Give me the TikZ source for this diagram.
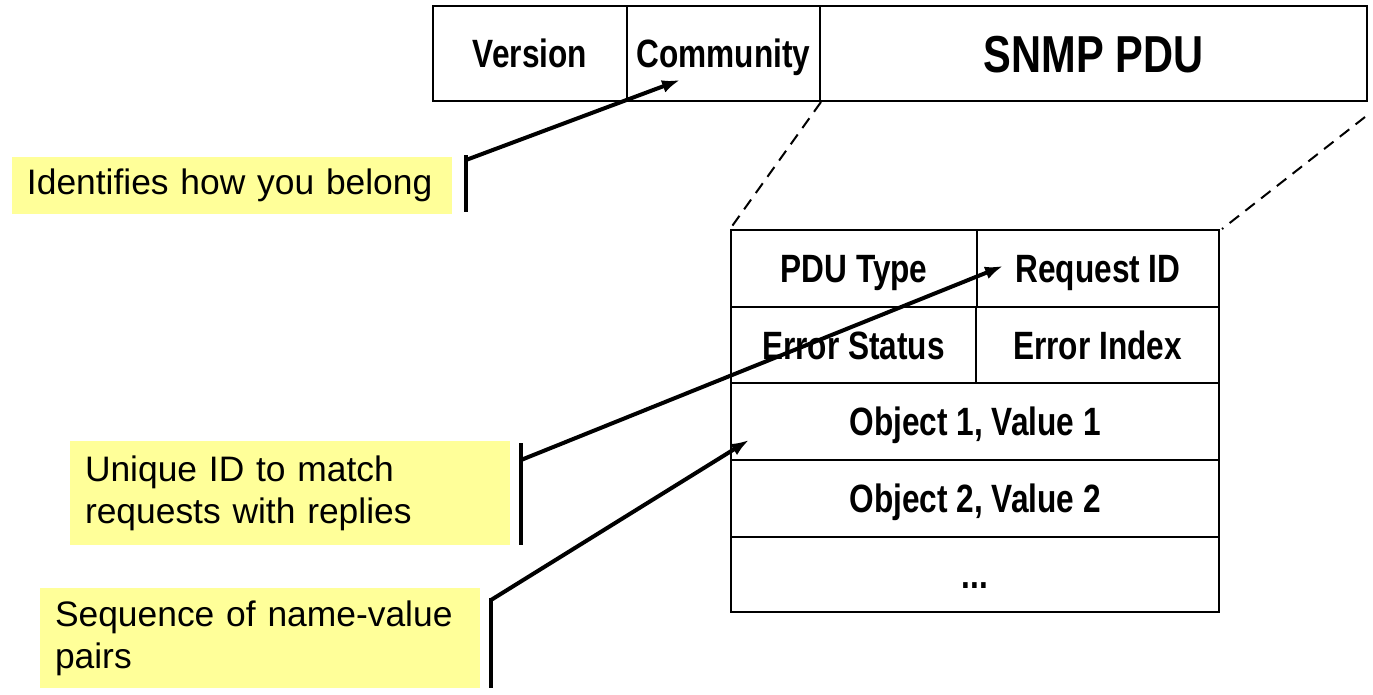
\documentclass[tikz,border=0pt]{standalone}
\usepackage{fontspec}
\setmainfont{Liberation Sans}
\newfontfamily\narrowbold[FakeStretch=0.8]{Liberation Sans Bold}
\usetikzlibrary{arrows.meta}
\definecolor{noteyellow}{RGB}{255,255,153}
\tikzset{
  cell/.style={draw=black, line width=2pt, inner sep=0pt, text height=28.4pt, text depth=0pt, font=\narrowbold\fontsize{39.5}{44}\selectfont},
  note/.style={fill=noteyellow, draw=none, inner xsep=15pt, inner ysep=0pt, text width=410pt, align=left, font=\fontsize{35.4}{42}\selectfont},
  bracketline/.style={line width=4pt},
  pointer/.style={line width=4pt, -{Latex[length=18pt,width=13pt]}},
  zoomline/.style={line width=2pt, dash pattern=on 12pt off 8pt}
}
\begin{document}
\begin{tikzpicture}[x=1pt,y=-1pt]
\useasboundingbox (0,0) rectangle (1373,694);
% top frame
\node[cell, minimum width=194pt, minimum height=95pt] (ver) at (530,53.5) {Version};
\node[cell, minimum width=193pt, minimum height=95pt] (com) at (723.5,53.5) {Community};
\node[cell, minimum width=547pt, minimum height=95pt, text height=37pt, font=\narrowbold\fontsize{52}{56}\selectfont] (pdu) at (1093.5,53.5) {SNMP PDU};
% PDU table
\node[cell, minimum width=246pt, minimum height=77pt] (type) at (854,268.5) {PDU Type};
\node[cell, minimum width=242pt, minimum height=77pt] (reqid) at (1098,268.5) {Request ID};
\node[cell, minimum width=245pt, minimum height=76pt] (errst) at (853.5,345) {Error Status};
\node[cell, minimum width=243pt, minimum height=76pt] (errix) at (1097.5,345) {Error Index};
\node[cell, minimum width=488pt, minimum height=77pt] (obj1) at (975,421.5) {Object 1, Value 1};
\node[cell, minimum width=488pt, minimum height=77pt] (obj2) at (975,498.5) {Object 2, Value 2};
\node[cell, minimum width=488pt, minimum height=75pt] (more) at (975,574.5) {...};
% zoom lines
\coordinate (zr) at (1365,117);
\draw[zoomline] (com.south east) -- (type.north west);
\draw[zoomline] (zr) -- ([xshift=2pt]reqid.north east);
% notes
\node[note, minimum height=57pt] (n1) at (232,185) {Identifies how you belong};
\node[note, minimum height=104pt] (n2) at (290,493) {Unique ID to match\\requests with replies};
\node[note, minimum height=100pt] (n3) at (260,638) {Sequence of name-value\\pairs};
% brackets
\coordinate (b1t) at (466,155); \coordinate (b1b) at (466,212); \coordinate (b1s) at (466,160);
\coordinate (b2t) at (521,443); \coordinate (b2b) at (521,545); \coordinate (b2s) at (521,460);
\coordinate (b3t) at (491,598); \coordinate (b3b) at (491,688); \coordinate (b3s) at (491,600);
\coordinate (t1) at (680,80);
\coordinate (t2) at (1003,266);
\coordinate (t3) at (749,440);
\draw[bracketline] (b1t) -- (b1b);
\draw[bracketline] (b2t) -- (b2b);
\draw[bracketline] (b3t) -- (b3b);
\draw[pointer] (b1s) -- (t1);
\draw[pointer] (b2s) -- (t2);
\draw[pointer] (b3s) -- (t3);
\end{tikzpicture}
\end{document}
